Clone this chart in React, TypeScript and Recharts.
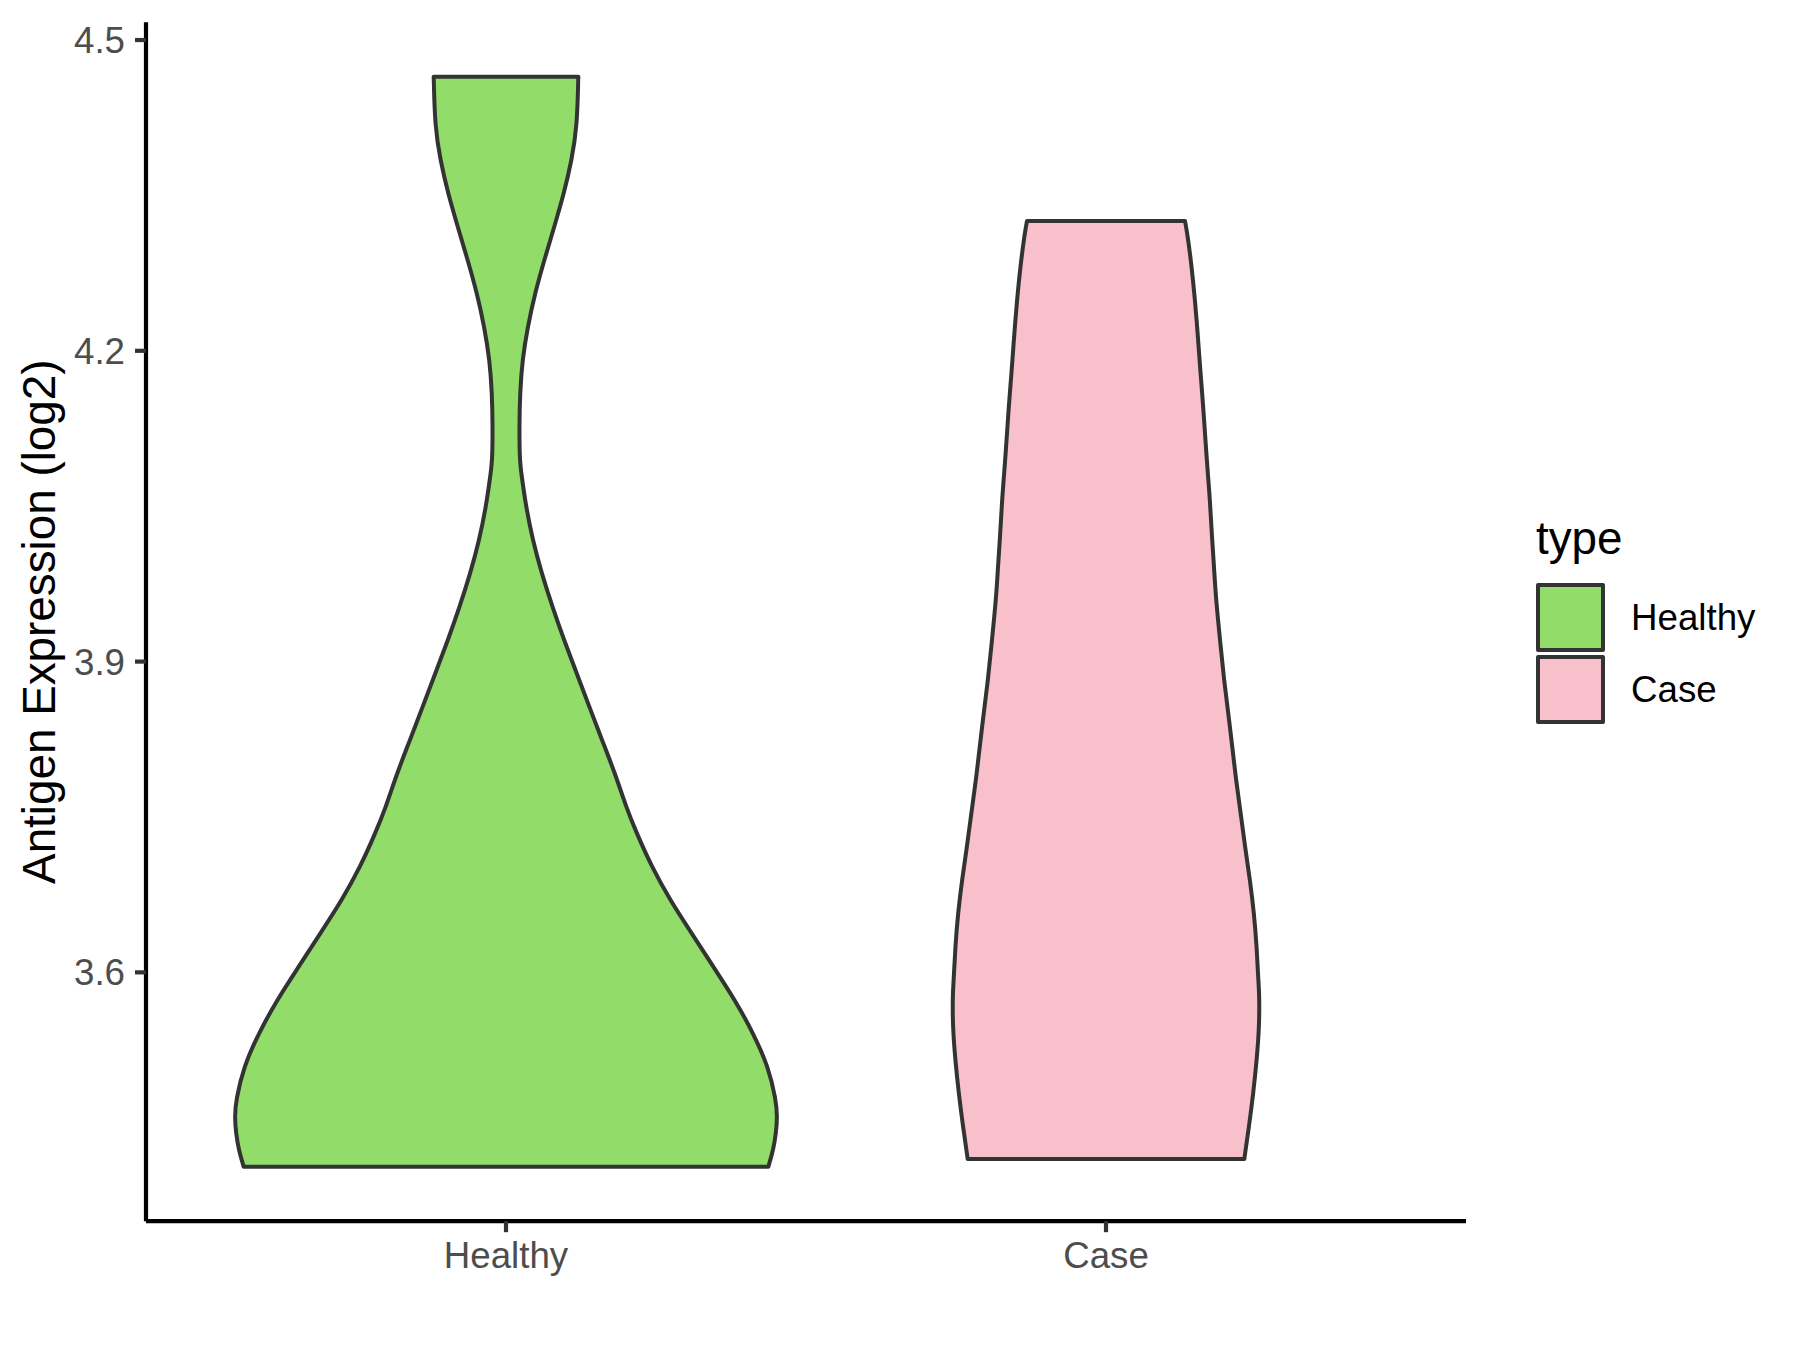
import React from 'react';
import { ComposedChart, Area, XAxis, YAxis, ReferenceLine, Legend } from 'recharts';

const FONT = '"Liberation Sans", Arial, Helvetica, sans-serif';

// Categories and their positions on the discrete x axis
const categories = ['Healthy', 'Case'];
const categoryPositions = [1, 2];
const fillColors = ['#92DC6A', '#F8C0CB'];
const outlineColor = '#333333';

// Y axis ticks
const yTicks = [3.6, 3.9, 4.2, 4.5];
const yDomain = [3.3598, 4.5172];
const xDomain = [0.4, 2.6];

// Healthy violin: expression values (top -> bottom) and density half-widths (x units)
const healthyValues = [
  4.4646, 4.4163, 4.3842, 4.352, 4.3198, 4.2876, 4.2555, 4.2233, 4.1911, 4.159,
  4.1267, 4.0946, 4.0818, 4.0495, 4.0174, 3.9852, 3.953, 3.9208, 3.8887, 3.8565,
  3.8243, 3.7922, 3.7599, 3.7343, 3.702, 3.6699, 3.6377, 3.6055, 3.5734, 3.5412,
  3.509, 3.4768, 3.4607, 3.4446, 3.4286, 3.4124,
];
const healthyHalfWidths = [
  0.1205, 0.1185, 0.1095, 0.0967, 0.0805, 0.0638, 0.0483, 0.0362, 0.0272, 0.0233,
  0.0222, 0.0228, 0.0255, 0.0333, 0.0445, 0.0595, 0.0772, 0.0967, 0.1178, 0.1388,
  0.16, 0.1817, 0.2, 0.2178, 0.2428, 0.2733, 0.3095, 0.3455, 0.3817, 0.4122,
  0.4372, 0.45, 0.4522, 0.45, 0.4455, 0.4372,
];

// Case violin
const caseValues = [
  4.3253, 4.3134, 4.2812, 4.249, 4.2169, 4.1847, 4.1525, 4.1204, 4.0881, 4.056,
  4.0238, 3.9916, 3.9595, 3.9144, 3.8822, 3.8501, 3.8178, 3.7857, 3.7535, 3.7213,
  3.6892, 3.657, 3.6248, 3.5927, 3.5798, 3.5476, 3.5154, 3.4833, 3.4511, 3.4199,
];
const caseHalfWidths = [
  0.1317, 0.1355, 0.1428, 0.1483, 0.1528, 0.1567, 0.1612, 0.165, 0.1688, 0.1733,
  0.1762, 0.18, 0.1833, 0.1912, 0.1967, 0.2038, 0.2105, 0.2167, 0.2245, 0.2317,
  0.24, 0.2467, 0.2512, 0.2538, 0.2555, 0.2555, 0.2512, 0.2455, 0.2383, 0.2305,
];

type ViolinRow = { y: number; range: [number, number] };

function buildViolin(center: number, values: number[], halfWidths: number[]): ViolinRow[] {
  return values.map((v, i) => ({ y: v, range: [center - halfWidths[i], center + halfWidths[i]] }));
}

const violins = [
  { name: categories[0], color: fillColors[0], data: buildViolin(categoryPositions[0], healthyValues, healthyHalfWidths) },
  { name: categories[1], color: fillColors[1], data: buildViolin(categoryPositions[1], caseValues, caseHalfWidths) },
];

const renderLegend = (props: any) => {
  const payload: any[] = props.payload || [];
  const items = categories
    .map((name) => payload.find((p) => p.value === name) || { value: name })
    .filter(Boolean);
  return (
    <div style={{ fontFamily: FONT, color: '#000000' }}>
      <div style={{ fontSize: 45.8, lineHeight: '50px', height: 50, marginBottom: 17.5 }}>type</div>
      {items.map((entry: any) => {
        const idx = categories.indexOf(entry.value);
        return (
          <div key={entry.value} style={{ display: 'flex', alignItems: 'center', height: 72 }}>
            <div
              style={{
                width: 69,
                height: 69,
                boxSizing: 'border-box',
                background: fillColors[idx],
                border: `4px solid ${outlineColor}`,
                borderRadius: 2,
              }}
            />
            <span style={{ marginLeft: 26, fontSize: 36.7, lineHeight: '69px' }}>{entry.value}</span>
          </div>
        );
      })}
    </div>
  );
};

const renderYLabel = (props: any) => {
  const vb = props && props.viewBox;
  const cy = vb && typeof vb.y === 'number' ? vb.y + vb.height / 2 : 621.7;
  const x = 55;
  return (
    <text
      x={x}
      y={cy}
      transform={`rotate(-90, ${x}, ${cy})`}
      textAnchor="middle"
      fontFamily={FONT}
      fontSize={45.8}
      fill="#000000"
    >
      Antigen Expression (log2)
    </text>
  );
};

export default function App() {
  return (
    <div style={{ position: 'absolute', left: 0, top: 0, width: 1800, height: 1350, background: '#ffffff' }}>
      <ComposedChart
        width={1800}
        height={1350}
        layout="vertical"
        margin={{ top: 22.2, right: 334, bottom: 68.8, left: 0 }}
      >
        <XAxis
          type="number"
          dataKey="range"
          domain={xDomain}
          allowDataOverflow
          ticks={categoryPositions}
          interval={0}
          tickFormatter={(v: number) => categories[categoryPositions.indexOf(v)] ?? ''}
          height={60}
          tickSize={11}
          tickMargin={10}
          axisLine={{ stroke: '#000000', strokeWidth: 4.2 }}
          tickLine={{ stroke: outlineColor, strokeWidth: 4.2 }}
          tick={{ fill: '#4D4D4D', fontSize: 36.7, fontFamily: FONT }}
        />
        <YAxis
          type="number"
          dataKey="y"
          domain={yDomain}
          reversed
          allowDataOverflow
          ticks={yTicks}
          interval={0}
          tickFormatter={(v: number) => v.toFixed(1)}
          width={146}
          tickSize={11}
          tickMargin={10}
          axisLine={{ stroke: '#000000', strokeWidth: 4.2 }}
          tickLine={{ stroke: outlineColor, strokeWidth: 4.2 }}
          tick={{ fill: '#4D4D4D', fontSize: 36.7, fontFamily: FONT }}
          label={{ content: renderYLabel }}
        />
        {violins.map((v) => (
          <Area
            key={v.name}
            name={v.name}
            data={v.data}
            dataKey="range"
            type="basis"
            fill={v.color}
            fillOpacity={1}
            stroke={outlineColor}
            strokeWidth={4}
            strokeLinejoin="round"
            dot={false}
            activeDot={false}
            isAnimationActive={false}
          />
        ))}
        {violins.map((v) => {
          const top = v.data[0];
          const bottom = v.data[v.data.length - 1];
          return (
            <React.Fragment key={`ends-${v.name}`}>
              <ReferenceLine
                segment={[{ x: top.range[0], y: top.y }, { x: top.range[1], y: top.y }]}
                stroke={outlineColor}
                strokeWidth={4}
                strokeLinecap="round"
                ifOverflow="visible"
              />
              <ReferenceLine
                segment={[{ x: bottom.range[0], y: bottom.y }, { x: bottom.range[1], y: bottom.y }]}
                stroke={outlineColor}
                strokeWidth={4}
                strokeLinecap="round"
                ifOverflow="visible"
              />
            </React.Fragment>
          );
        })}
        <Legend
          layout="vertical"
          align="center"
          verticalAlign="middle"
          wrapperStyle={{ left: 1536, top: 514.2, width: 260 }}
          content={renderLegend}
        />
      </ComposedChart>
    </div>
  );
}
